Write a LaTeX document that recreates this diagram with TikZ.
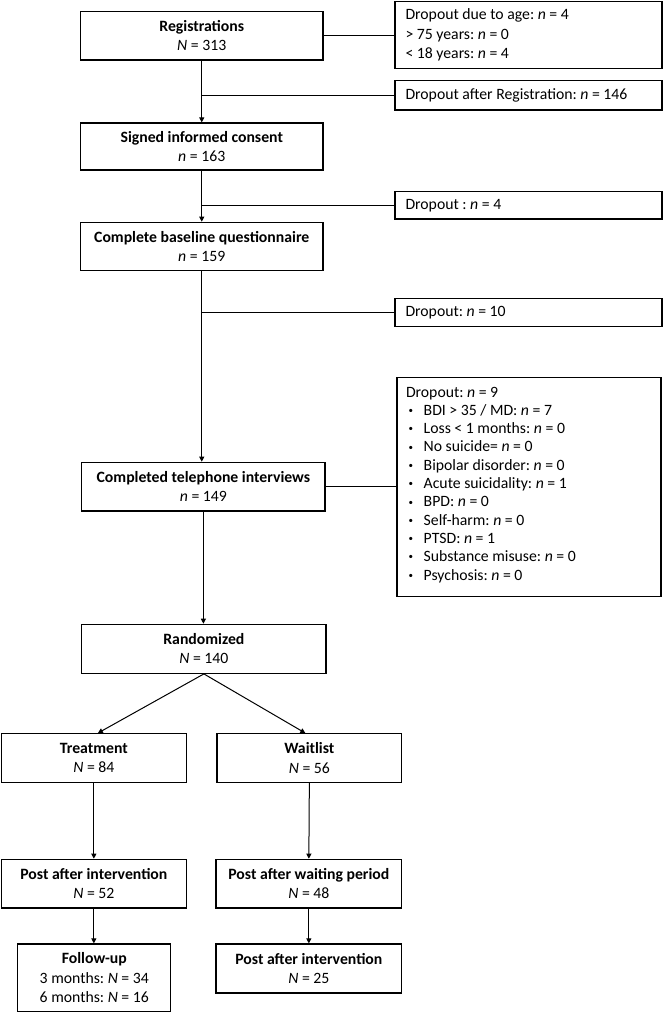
\documentclass[tikz,border=0pt]{standalone}
\usepackage{fontspec}
\setmainfont{Carlito}
\usetikzlibrary{arrows.meta}
\frenchspacing
\newcommand{\bul}{\hspace*{2.5pt}\makebox[15.2pt][l]{\raisebox{1.8pt}{\fontsize{9pt}{9pt}\selectfont•}}}
\begin{document}
\begin{tikzpicture}[x=1pt,y=-1pt,
  box/.style={draw, line width=1.2pt, align=center, inner sep=0pt, font=\frenchspacing\fontsize{15.75pt}{19.3pt}\selectfont},
  dbox/.style={draw, line width=1.2pt, align=flush left, inner ysep=0pt, inner xsep=10.5pt, text width=246pt, font=\frenchspacing\fontsize{15.75pt}{19.3pt}\selectfont},
  conn/.style={line width=1pt},
  arr/.style={conn, -{Triangle[length=5pt,width=5pt]}}
]
\useasboundingbox (0,0) rectangle (664,1013);

\node[box, minimum width=242.5pt, minimum height=48.3pt] (reg) at (201.75,35.85) {\textbf{Registrations}\\\textit{N} = 313};
\node[dbox, minimum height=66.6pt] (age) at (528.5,35) {Dropout due to age: \textit{n} = 4\\> 75 years: \textit{n} = 0\\< 18 years: \textit{n} = 4};
\node[dbox, minimum height=29.3pt] (dar) at (528.5,95.35) {Dropout after Registration: \textit{n} = 146};
\node[box, minimum width=242.5pt, minimum height=47pt] (sic) at (201.75,146.5) {\textbf{Signed informed consent}\\\textit{n} = 163};
\node[dbox, minimum height=27.3pt] (d4) at (528.5,205.35) {Dropout : \textit{n} = 4};
\node[box, minimum width=242.5pt, minimum height=48pt] (cbq) at (201.75,246.3) {\textbf{Complete baseline questionnaire}\\\textit{n} = 159};
\node[dbox, minimum height=28.4pt] (d10) at (528.5,312.5) {Dropout: \textit{n} = 10};
\node[dbox, inner xsep=9pt, minimum height=219pt, font=\frenchspacing\fontsize{15.75pt}{18.3pt}\selectfont] (d9) at (529,487.2) {Dropout: \textit{n} = 9\\
\bul BDI > 35 / MD: \textit{n} = 7\\
\bul Loss < 1 months: \textit{n} = 0\\
\bul No suicide= \textit{n} = 0\\
\bul Bipolar disorder: \textit{n} = 0\\
\bul Acute suicidality: \textit{n} = 1\\
\bul BPD: \textit{n} = 0\\
\bul Self-harm: \textit{n} = 0\\
\bul PTSD: \textit{n} = 1\\
\bul Substance misuse: \textit{n} = 0\\
\bul Psychosis: \textit{n} = 0\vspace{5pt}};
\node[box, minimum width=243.2pt, minimum height=48.7pt] (cti) at (203.4,486.65) {\textbf{Completed telephone interviews}\\\textit{n} = 149};
\node[box, minimum width=244.2pt, minimum height=49pt] (rand) at (203.9,648.8) {\textbf{Randomized}\\\textit{N} = 140};
\node[box, minimum width=185.1pt, minimum height=48.6pt] (treat) at (93.85,758) {\textbf{Treatment}\\\textit{N} = 84};
\node[box, minimum width=184.7pt, minimum height=48.6pt] (wait) at (309.35,758) {\textbf{Waitlist}\\\textit{N} = 56};
\node[box, minimum width=185.1pt, minimum height=48.7pt] (pai) at (93.85,883.65) {\textbf{Post after intervention}\\\textit{N} = 52};
\node[box, minimum width=185.7pt, minimum height=48.7pt] (paw) at (308.85,883.65) {\textbf{Post after waiting period}\\\textit{N} = 48};
\node[box, minimum width=153pt, minimum height=67.3pt] (fu) at (94.3,977.65) {\textbf{Follow-up}\\3 months: \textit{N} = 34\\6 months: \textit{N} = 16};
\node[box, minimum width=185.7pt, minimum height=49pt] (pai2) at (308.85,968.5) {\textbf{Post after intervention}\\\textit{N} = 25};

\draw[arr] (reg.south) -- (sic.north);
\draw[conn] (reg.east) -- (reg.east -| age.west);
\draw[conn] (reg.south |- dar.west) -- (dar.west);
\draw[arr] (sic.south) -- (cbq.north);
\draw[conn] (sic.south |- d4.west) -- (d4.west);
\draw[arr] (cbq.south) -- (cbq.south |- cti.north);
\draw[conn] (cbq.south |- d10.west) -- (d10.west);
\draw[conn] (cti.east) -- (cti.east -| d9.west);
\draw[arr] (cti.south) -- (cti.south |- rand.north);
\draw[arr] (rand.south) -- ([xshift=4pt]treat.north);
\draw[arr] (rand.south) -- ([xshift=-4pt]wait.north);
\draw[arr] (treat.south) -- (pai.north);
\draw[arr] (wait.south) -- (paw.north);
\draw[arr] (pai.south) -- (pai.south |- fu.north);
\draw[arr] (paw.south) -- (pai2.north);
\end{tikzpicture}
\end{document}
